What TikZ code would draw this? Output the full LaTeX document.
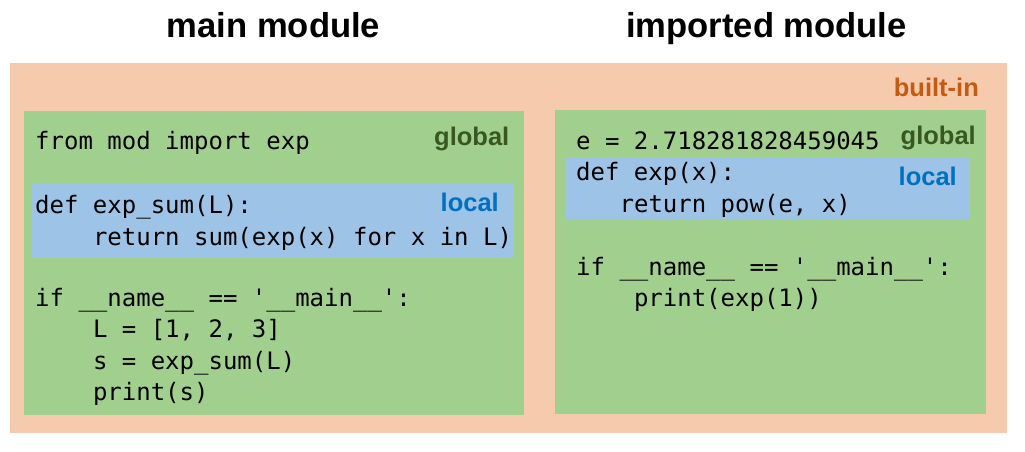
\documentclass[tikz,border=0pt]{standalone}
\usepackage{fontspec}
\setmainfont{Liberation Sans}
\setmonofont{DejaVu Sans Mono}
\definecolor{bgorange}{HTML}{F6CAAC}
\definecolor{bggreen}{HTML}{A1CF8E}
\definecolor{bgblue}{HTML}{9DC3E6}
\definecolor{lblgreen}{HTML}{385723}
\definecolor{lblblue}{HTML}{0070C0}
\definecolor{lblorange}{HTML}{C55A11}
\tikzset{
  codeline/.style={anchor=base west, inner sep=0pt, font=\fontsize{24}{28}\selectfont\ttfamily},
  scopelbl/.style={anchor=base east, inner sep=0pt, font=\fontsize{25.5}{30}\selectfont\bfseries},
  titlelbl/.style={anchor=base, inner sep=0pt, font=\fontsize{34.6}{40}\selectfont\bfseries},
}
\begin{document}
\begin{tikzpicture}[x=1pt,y=-1pt]
\useasboundingbox (0,0) rectangle (1025,451);
% boxes
\fill[bgorange] (10,63) rectangle (1007,433);
\fill[bggreen] (24,111) rectangle (523.5,415);
\fill[bgblue] (32,183) rectangle (514,258);
\fill[bggreen] (555,110) rectangle (986,414);
\fill[bgblue] (566,157) rectangle (970,219);
% titles
\node[titlelbl] (tmain) at (273.5,37.5) {main module};
\node[titlelbl] (timp) at (766.5,37.5) {imported module};
% scope labels
\node[scopelbl, text=lblorange] (builtin) at (979,96) {built-in};
\node[scopelbl, text=lblgreen] (glob1) at (509.5,145.5) {global};
\node[scopelbl, text=lblblue] (loc1) at (499,211.5) {local};
\node[scopelbl, text=lblgreen] (glob2) at (976,144) {global};
\node[scopelbl, text=lblblue] (loc2) at (957,185) {local};
% left code
\node[codeline] (l1) at (35,149) {from mod import exp};
\node[codeline] (l2) at (35,213) {def exp\_sum(L):};
\node[codeline] (l3) at (92.8,245) {return sum(exp(x) for x in L)};
\node[codeline] (l4) at (35,306) {if \_\_name\_\_ == '\_\_main\_\_':};
\node[codeline] (l5) at (92.8,337.5) {L = [1, 2, 3]};
\node[codeline] (l6) at (92.8,369) {s = exp\_sum(L)};
\node[codeline] (l7) at (92.8,400) {print(s)};
% right code
\node[codeline] (r1) at (576,149) {e = 2.718281828459045};
\node[codeline] (r2) at (576,180) {def exp(x):};
\node[codeline] (r3) at (619.4,212) {return pow(e, x)};
\node[codeline] (r4) at (576,275) {if \_\_name\_\_ == '\_\_main\_\_':};
\node[codeline] (r5) at (633.8,306) {print(exp(1))};
\end{tikzpicture}
\end{document}
